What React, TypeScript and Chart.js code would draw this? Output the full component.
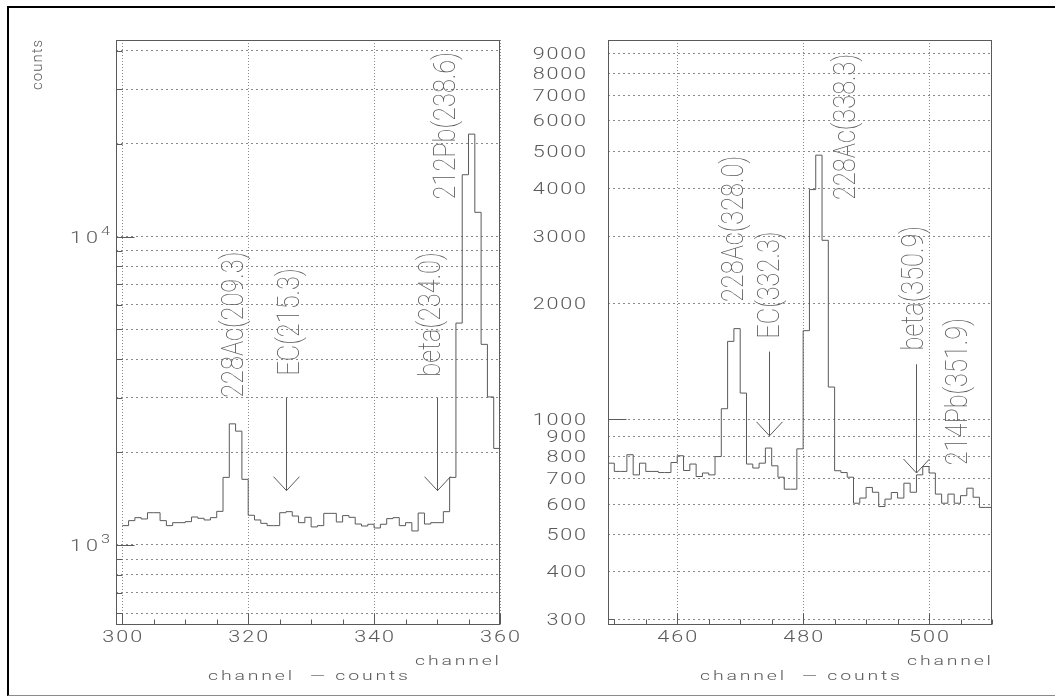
import React, { useEffect, useRef } from "react";
import { Chart, registerables } from "chart.js";

Chart.register(...registerables);

// ---------------- data ----------------
const leftStartChannel = 300;
const leftCounts = [
  1155, 1199, 1226, 1214, 1272, 1272, 1199, 1155, 1181, 1181,
  1190, 1232, 1220, 1205, 1226, 1285, 1656, 2470, 2339, 1632,
  1248, 1205, 1175, 1155, 1155, 1272, 1282, 1241, 1181, 1229,
  1144, 1155, 1266, 1266, 1187, 1245, 1229, 1169, 1152, 1167,
  1135, 1167, 1217, 1226, 1155, 1181, 1110, 1269, 1169, 1181,
  1181, 1282, 1656, 5242, 15870, 21490, 11985, 4472, 3020, 2056,
];

const rightStartChannel = 449;
const rightCounts = [
  767, 730, 730, 807, 715, 767, 730, 730, 725, 725,
  770, 802, 734, 763, 708, 723, 715, 798, 1064, 1595,
  1722, 1169, 763, 745, 767, 840, 755, 705, 656, 656,
  836, 1701, 3972, 4885, 2928, 1212, 733, 725, 705, 603,
  622, 663, 644, 591, 618, 643, 622, 680, 644, 715,
  752, 723, 637, 603, 637, 603, 631, 660, 625, 588,
  588,
];

const leftXTicks = [300, 320, 340, 360];
const leftXMinor = [305, 310, 315, 325, 330, 335, 345, 350, 355];
const rightXTicks = [460, 480, 500];
const rightXMinor = [450, 455, 465, 470, 475, 485, 490, 495, 505, 510];

const leftYGrid = [600, 700, 800, 900, 1000, 2000, 3000, 4000, 5000, 6000, 7000, 8000, 9000, 10000, 20000, 30000, 40000];
const leftYMajor = [1000, 10000];
const leftYPowers = [3, 4];

const rightYGrid = [300, 400, 500, 600, 700, 800, 900, 1000, 2000, 3000, 4000, 5000, 6000, 7000, 8000, 9000];
const rightYLabels = ["300", "400", "500", "600", "700", "800", "900", "1000", "2000", "3000", "4000", "5000", "6000", "7000", "8000", "9000"];
const rightYMajor = [1000];
const rightYMinor = [300];

type Note = { text: string; channel: number; value: number };
type Arrow = { channel: number; from: number; to: number };

const leftNotes: Note[] = [
  { text: "228Ac(209.3)", channel: 319.2, value: 3000 },
  { text: "EC(215.3)", channel: 328.1, value: 3540 },
  { text: "beta(234.0)", channel: 350.4, value: 3510 },
  { text: "212Pb(238.6)", channel: 352.9, value: 13200 },
];
const leftArrows: Arrow[] = [
  { channel: 326, from: 3000, to: 1500 },
  { channel: 350, from: 3000, to: 1500 },
];

const rightNotes: Note[] = [
  { text: "228Ac(328.0)", channel: 470.5, value: 2020 },
  { text: "EC(332.3)", channel: 476.2, value: 1620 },
  { text: "228Ac(338.3)", channel: 488.2, value: 3730 },
  { text: "beta(350.9)", channel: 499.1, value: 1510 },
  { text: "214Pb(351.9)", channel: 506.0, value: 757 },
];
const rightArrows: Arrow[] = [
  { channel: 474.6, from: 1500, to: 904 },
  { channel: 498, from: 1390, to: 723 },
];

const xTitle = "channel";
const xSubTitle = "channel  \u2014 counts";
const yTitle = "counts";

// ---------------- styles ----------------
const TEXT = "#5a5a5a";
const LINE = "#5a5a5a";
const GRID = "#8a8a8a";
const TICK_FONT = "300 16px Roboto, 'DejaVu Sans', sans-serif";
const SUP_FONT = "300 12px Roboto, 'DejaVu Sans', sans-serif";
const TITLE_FONT = "300 13px Roboto, 'DejaVu Sans', sans-serif";
const NOTE_FONT = "100 31px Roboto, 'DejaVu Sans', sans-serif";
const YTITLE_FONT = "300 15px Roboto, 'DejaVu Sans', sans-serif";

// text with horizontal stretch and manual letter gaps (gap in screen px)
function spacedText(ctx: CanvasRenderingContext2D, text: string, x: number, y: number, align: string, sx: number, font: string, gap: number) {
  ctx.save();
  ctx.font = font;
  ctx.textBaseline = "alphabetic";
  ctx.textAlign = "left";
  ctx.fillStyle = TEXT;
  const chars = Array.from(text);
  const widths = chars.map((c) => ctx.measureText(c).width * sx);
  const total = widths.reduce((s, w) => s + w, 0) + gap * (chars.length - 1);
  let cx = x;
  if (align === "center") cx = x - total / 2;
  else if (align === "right") cx = x - total;
  chars.forEach((c, i) => {
    ctx.save();
    ctx.translate(cx, y);
    ctx.scale(sx, 1);
    ctx.fillText(c, 0, 0);
    ctx.restore();
    cx += widths[i] + gap;
  });
  ctx.restore();
}

// vertical text reading bottom-to-top; (x, y) = baseline point at the start of the text
function vText(ctx: CanvasRenderingContext2D, text: string, x: number, y: number, sx: number, font: string, gap: number) {
  ctx.save();
  ctx.translate(x, y);
  ctx.rotate(-Math.PI / 2);
  spacedText(ctx, text, 0, 0, "left", sx, font, gap);
  ctx.restore();
}

function seg(ctx: CanvasRenderingContext2D, x1: number, y1: number, x2: number, y2: number) {
  ctx.beginPath();
  ctx.moveTo(x1, y1);
  ctx.lineTo(x2, y2);
  ctx.stroke();
}

type Panel = {
  key: string;
  start: number;
  counts: number[];
  xMin: number;
  xMax: number;
  yMin: number;
  yMax: number;
  yAxisW: number;
  padRight: number;
  canvasLeft: number;
  canvasW: number;
  xTicks: number[];
  xMinor: number[];
  yGrid: number[];
  yMajor: number[];
  yMinor: number[];
  notes: Note[];
  arrows: Arrow[];
  drawYLabels: (ctx: CanvasRenderingContext2D, chart: any) => void;
  showYTitle: boolean;
};

const px = (v: number) => Math.round(v) + 0.5;

function overlayPlugin(p: Panel) {
  return {
    id: "overlay_" + p.key,
    afterDraw(chart: any) {
      const ctx: CanvasRenderingContext2D = chart.ctx;
      const a = chart.chartArea;
      const xs = chart.scales.x;
      const ys = chart.scales.y;
      ctx.save();
      ctx.strokeStyle = LINE;
      ctx.lineWidth = 1;
      const bottom = a.bottom - 0.5;
      const left = a.left + 0.5;
      for (const v of p.xTicks) {
        const X = px(xs.getPixelForValue(v));
        seg(ctx, X, bottom, X, bottom - 11);
      }
      for (const v of p.xMinor) {
        const X = px(xs.getPixelForValue(v));
        seg(ctx, X, bottom, X, bottom - 5);
      }
      for (const v of p.yMajor) {
        const Y = px(ys.getPixelForValue(v));
        seg(ctx, left, Y, left + 18, Y);
      }
      for (const v of p.yMinor) {
        const Y = px(ys.getPixelForValue(v));
        seg(ctx, left, Y, left + 6, Y);
      }
      ctx.strokeRect(a.left + 0.5, a.top + 0.5, a.right - a.left - 1, a.bottom - a.top - 1);
      for (const ar of p.arrows) {
        const X = px(xs.getPixelForValue(ar.channel));
        const Y1 = ys.getPixelForValue(ar.from);
        const Y2 = ys.getPixelForValue(ar.to);
        seg(ctx, X, Y1, X, Y2);
        ctx.beginPath();
        ctx.moveTo(X - 13, Y2 - 14);
        ctx.lineTo(X, Y2);
        ctx.lineTo(X + 13, Y2 - 14);
        ctx.stroke();
      }
      ctx.restore();

      for (const v of p.xTicks) {
        spacedText(ctx, String(v), xs.getPixelForValue(v), 642, "center", 1.35, TICK_FONT, 2);
      }
      p.drawYLabels(ctx, chart);
      spacedText(ctx, xTitle, a.right - 1, 665, "right", 1.5, TITLE_FONT, 2.8);
      spacedText(ctx, xSubTitle, (a.left + a.right) / 2, 680, "center", 1.5, TITLE_FONT, 2.8);
      if (p.showYTitle) {
        vText(ctx, yTitle, 42, 90, 1, YTITLE_FONT, 1);
      }
      for (const n of p.notes) {
        vText(ctx, n.text, xs.getPixelForValue(n.channel), ys.getPixelForValue(n.value), 0.82, NOTE_FONT, 0);
      }
    },
  };
}

function buildConfig(p: Panel): any {
  const points = p.counts.map((v, i) => ({ x: p.start + i, y: v }));
  points.push({ x: p.start + p.counts.length, y: p.counts[p.counts.length - 1] });
  return {
    type: "line",
    data: {
      datasets: [
        {
          data: points,
          stepped: "before",
          borderColor: LINE,
          borderWidth: 1,
          pointRadius: 0,
          fill: false,
          tension: 0,
        },
      ],
    },
    options: {
      animation: false,
      responsive: false,
      maintainAspectRatio: false,
      events: [],
      layout: { padding: { left: 0, top: 40, right: p.padRight, bottom: 0 } },
      plugins: { legend: { display: false }, tooltip: { enabled: false }, title: { display: false } },
      scales: {
        x: {
          type: "linear",
          bounds: "data",
          min: p.xMin,
          max: p.xMax,
          afterBuildTicks: (s: any) => {
            s.ticks = p.xTicks.map((v) => ({ value: v }));
          },
          afterFit: (s: any) => {
            s.height = 72;
          },
          ticks: { display: false },
          grid: { color: GRID, lineWidth: 1, drawTicks: false },
          border: { display: false, dash: [1, 2] },
        },
        y: {
          type: "logarithmic",
          bounds: "data",
          min: p.yMin,
          max: p.yMax,
          afterBuildTicks: (s: any) => {
            s.ticks = p.yGrid.map((v) => ({ value: v }));
          },
          afterFit: (s: any) => {
            s.width = p.yAxisW;
          },
          ticks: { display: false },
          grid: { color: GRID, lineWidth: 1, drawTicks: false },
          border: { display: false, dash: [2, 3] },
        },
      },
    },
    plugins: [overlayPlugin(p)],
  };
}

const leftPanel: Panel = {
  key: "left",
  start: leftStartChannel,
  counts: leftCounts,
  xMin: 299,
  xMax: 360,
  yMin: 550,
  yMax: 43400,
  yAxisW: 116,
  padRight: 30,
  canvasLeft: 0,
  canvasW: 530,
  xTicks: leftXTicks,
  xMinor: leftXMinor,
  yGrid: leftYGrid,
  yMajor: leftYMajor,
  yMinor: leftYGrid.filter((v) => !leftYMajor.includes(v)),
  notes: leftNotes,
  arrows: leftArrows,
  showYTitle: true,
  drawYLabels: (ctx, chart) => {
    const ys = chart.scales.y;
    leftYMajor.forEach((v, i) => {
      const Y = ys.getPixelForValue(v);
      spacedText(ctx, "10", 98, Y + 6, "right", 1.35, TICK_FONT, 4);
      spacedText(ctx, String(leftYPowers[i]), 101, Y - 2, "left", 1.35, SUP_FONT, 0);
    });
  },
};

const rightPanel: Panel = {
  key: "right",
  start: rightStartChannel,
  counts: rightCounts,
  xMin: 449,
  xMax: 510,
  yMin: 290,
  yMax: 9760,
  yAxisW: 78,
  padRight: 63,
  canvasLeft: 530,
  canvasW: 525,
  xTicks: rightXTicks,
  xMinor: rightXMinor,
  yGrid: rightYGrid,
  yMajor: rightYMajor,
  yMinor: rightYMinor,
  notes: rightNotes,
  arrows: rightArrows,
  showYTitle: false,
  drawYLabels: (ctx, chart) => {
    const ys = chart.scales.y;
    rightYGrid.forEach((v, i) => {
      const Y = ys.getPixelForValue(v);
      spacedText(ctx, rightYLabels[i], 586 - 530, Y + 5.5, "right", 1.35, TICK_FONT, 1.8);
    });
  },
};

function SpectrumPanel({ panel }: { panel: Panel }) {
  const ref = useRef<HTMLCanvasElement>(null);
  useEffect(() => {
    const chart = new Chart(ref.current as HTMLCanvasElement, buildConfig(panel));
    return () => chart.destroy();
  }, [panel]);
  return (
    <canvas
      ref={ref}
      width={panel.canvasW}
      height={697}
      style={{ position: "absolute", left: panel.canvasLeft, top: 0, width: panel.canvasW, height: 697 }}
    />
  );
}

export default function App() {
  return (
    <div
      style={{
        position: "fixed",
        left: 0,
        top: 0,
        width: 1055,
        height: 697,
        overflow: "hidden",
        background: "#fff",
      }}
    >
      <div
        style={{
          position: "absolute",
          left: 7,
          top: 6,
          width: 1060,
          height: 690,
          boxSizing: "border-box",
          borderTop: "2px solid #000",
          borderLeft: "2px solid #000",
          borderBottom: "1px solid #8a8a8a",
        }}
      />
      <SpectrumPanel panel={leftPanel} />
      <SpectrumPanel panel={rightPanel} />
    </div>
  );
}
